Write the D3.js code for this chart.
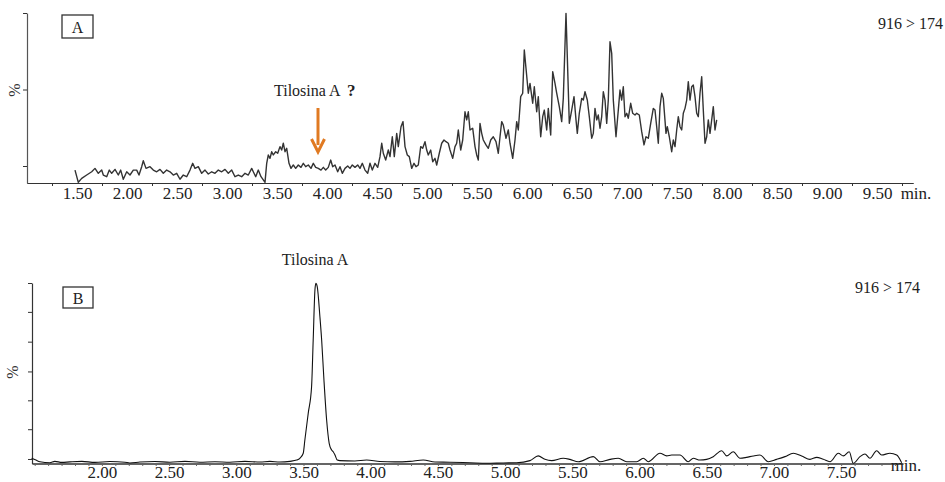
<!DOCTYPE html>
<html><head><meta charset="utf-8">
<script src="https://cdn.jsdelivr.net/npm/d3@7/dist/d3.min.js"></script>
<style>
body{margin:0;background:#fff;}
svg{display:block;font-family:"Liberation Serif","Times New Roman",serif;}
</style></head>
<body><svg id="c" width="945" height="482"></svg>
<script>
// ---- data ----
const panelLabels = ["A", "B"];
const transitionLabel = "916 > 174";
const compoundLabel = "Tilosina A";
const topTickLabels = [1.5,2.0,2.5,3.0,3.5,4.0,4.5,5.0,5.5,6.0,6.5,7.0,7.5,8.0,8.5,9.0,9.5];
const bottomTickLabels = [2.0,2.5,3.0,3.5,4.0,4.5,5.0,5.5,6.0,6.5,7.0,7.5];
const topYTicks = [100, 55, 10];
const bottomYTicks = [100, 84, 67.5, 51, 35, 19, 2.5];
// top chromatogram (A): [time (min), intensity %]
const topSeries = [[1.48,7.6],[1.513,0.4],[1.547,2.7],[1.597,4.7],[1.647,6.6],[1.68,8.6],[1.713,5.7],[1.747,7.6],[1.763,4.7],[1.797,3.7],[1.823,7.6],[1.847,5.7],[1.88,8.0],[1.913,4.7],[1.937,7.6],[1.963,2.2],[1.997,6.6],[2.03,4.7],[2.063,7.6],[2.097,7.6],[2.12,4.7],[2.147,9.6],[2.163,13.1],[2.19,8.6],[2.23,9.6],[2.263,7.6],[2.297,6.6],[2.33,8.0],[2.363,5.7],[2.397,7.6],[2.43,6.6],[2.463,4.7],[2.497,5.7],[2.53,2.2],[2.563,4.7],[2.597,3.7],[2.63,7.6],[2.657,11.6],[2.68,8.6],[2.713,9.6],[2.747,5.7],[2.78,7.6],[2.813,5.3],[2.847,6.6],[2.88,5.7],[2.913,7.6],[2.947,6.6],[2.98,8.0],[3.013,5.7],[3.047,7.6],[3.08,3.7],[3.113,4.7],[3.147,3.7],[3.18,5.7],[3.213,4.7],[3.247,8.6],[3.263,6.6],[3.287,3.7],[3.313,7.6],[3.34,3.7],[3.363,1.8],[3.38,0.4],[3.397,11.6],[3.413,16.5],[3.43,14.5],[3.447,18.4],[3.463,16.5],[3.487,18.4],[3.507,17.5],[3.53,21.4],[3.547,19.4],[3.563,23.4],[3.58,18.4],[3.597,20.4],[3.62,11.6],[3.64,8.6],[3.663,10.6],[3.687,8.6],[3.713,10.6],[3.74,9.2],[3.763,11.6],[3.787,9.6],[3.813,10.6],[3.84,8.6],[3.863,11.6],[3.887,9.2],[3.913,8.6],[3.94,7.6],[3.963,9.2],[3.987,7.6],[4.013,9.2],[4.037,13.5],[4.057,9.6],[4.08,10.6],[4.107,6.6],[4.13,9.6],[4.153,5.7],[4.18,8.6],[4.207,10.0],[4.23,8.6],[4.253,10.6],[4.28,9.2],[4.307,10.6],[4.33,8.6],[4.353,11.6],[4.38,7.6],[4.407,5.7],[4.43,11.6],[4.453,7.6],[4.48,11.6],[4.507,9.2],[4.53,15.5],[4.547,23.4],[4.563,17.5],[4.587,13.5],[4.613,19.4],[4.63,15.5],[4.653,27.2],[4.673,15.5],[4.697,29.2],[4.713,21.4],[4.74,33.1],[4.76,36.1],[4.78,21.4],[4.803,16.5],[4.823,15.5],[4.847,8.6],[4.87,11.6],[4.89,9.6],[4.913,10.6],[4.937,21.4],[4.957,20.4],[4.98,24.3],[4.997,19.4],[5.013,16.5],[5.037,19.4],[5.057,12.5],[5.08,14.5],[5.097,10.6],[5.123,17.5],[5.147,23.4],[5.17,25.3],[5.19,24.3],[5.213,23.4],[5.23,19.4],[5.257,14.5],[5.28,21.4],[5.297,23.4],[5.313,31.2],[5.337,19.4],[5.357,25.3],[5.38,41.9],[5.397,37.1],[5.413,41.9],[5.43,31.2],[5.457,32.2],[5.48,21.4],[5.497,16.5],[5.513,13.5],[5.53,35.1],[5.547,29.2],[5.563,25.3],[5.59,22.4],[5.613,20.4],[5.637,25.3],[5.663,27.2],[5.69,24.3],[5.713,17.5],[5.73,27.2],[5.747,36.1],[5.763,34.1],[5.79,26.3],[5.813,31.2],[5.83,23.4],[5.857,14.5],[5.88,25.3],[5.897,36.1],[5.913,31.2],[5.937,50.8],[5.957,52.8],[5.973,78.2],[5.99,67.5],[6.013,52.8],[6.03,58.6],[6.057,46.9],[6.073,56.6],[6.097,41.9],[6.113,50.8],[6.137,27.2],[6.157,39.0],[6.173,42.9],[6.197,31.2],[6.213,43.9],[6.237,28.2],[6.257,65.5],[6.28,58.6],[6.297,52.8],[6.323,44.9],[6.347,36.1],[6.363,49.8],[6.39,99.8],[6.423,35.1],[6.447,42.9],[6.47,50.8],[6.49,37.1],[6.503,29.2],[6.523,41.0],[6.547,49.8],[6.563,48.8],[6.58,53.7],[6.603,48.8],[6.623,39.0],[6.647,26.3],[6.663,29.2],[6.68,43.9],[6.697,37.1],[6.713,40.0],[6.73,32.2],[6.747,39.0],[6.763,53.7],[6.78,48.8],[6.797,35.1],[6.813,48.8],[6.83,83.1],[6.847,76.3],[6.863,48.8],[6.89,27.2],[6.913,42.9],[6.93,54.7],[6.947,48.8],[6.963,56.6],[6.98,39.0],[6.997,41.0],[7.013,38.1],[7.037,46.9],[7.057,41.0],[7.08,40.0],[7.097,41.0],[7.123,40.0],[7.147,30.2],[7.17,22.4],[7.19,27.2],[7.213,26.3],[7.237,35.1],[7.263,43.9],[7.28,42.9],[7.297,33.1],[7.313,23.4],[7.33,44.9],[7.347,52.8],[7.363,49.8],[7.39,29.2],[7.403,33.1],[7.423,27.2],[7.447,18.4],[7.463,25.3],[7.48,21.4],[7.497,31.2],[7.513,39.0],[7.53,33.1],[7.547,31.2],[7.563,41.0],[7.58,43.9],[7.597,48.8],[7.613,59.6],[7.63,48.8],[7.647,56.6],[7.663,57.6],[7.68,50.8],[7.697,41.0],[7.713,39.0],[7.73,52.8],[7.747,62.5],[7.763,42.9],[7.78,23.4],[7.797,27.2],[7.813,37.1],[7.83,29.2],[7.847,37.1],[7.863,44.9],[7.88,31.2],[7.897,37.1]];
// bottom chromatogram (B): [time (min), intensity %]
const bottomSeries = [[1.477,2.9],[1.509,1.9],[1.539,1.0],[1.613,0.4],[1.65,1.2],[1.702,0.6],[1.762,0.9],[1.851,1.2],[1.948,0.6],[2.06,1.1],[2.171,0.7],[2.208,0.3],[2.283,0.8],[2.394,1.1],[2.506,0.7],[2.618,1.2],[2.729,0.7],[2.841,1.0],[2.952,0.7],[3.064,1.2],[3.176,0.8],[3.25,1.2],[3.324,0.8],[3.399,1.2],[3.449,1.9],[3.473,2.9],[3.498,5.7],[3.51,13.0],[3.535,27.8],[3.56,42.5],[3.572,68.4],[3.585,96.1],[3.592,99.8],[3.602,98.0],[3.622,81.3],[3.635,68.4],[3.652,46.3],[3.672,24.1],[3.691,11.2],[3.709,7.5],[3.721,6.5],[3.734,4.7],[3.751,1.9],[3.771,1.6],[3.882,1.4],[3.97,1.9],[4.068,1.1],[4.18,0.9],[4.292,1.2],[4.391,1.9],[4.478,0.8],[4.589,0.7],[4.738,0.4],[4.862,0.1],[4.986,0.3],[5.085,0.4],[5.185,1.6],[5.246,4.2],[5.296,2.3],[5.346,1.6],[5.432,2.9],[5.482,2.3],[5.544,1.0],[5.656,3.8],[5.705,1.0],[5.78,2.3],[5.842,2.9],[5.905,1.0],[5.979,1.0],[6.028,2.9],[6.065,1.0],[6.152,5.7],[6.202,4.2],[6.239,4.7],[6.301,4.7],[6.362,1.0],[6.4,2.9],[6.449,1.9],[6.499,2.3],[6.548,3.8],[6.611,7.1],[6.648,4.2],[6.697,6.5],[6.747,2.9],[6.796,3.4],[6.846,4.2],[6.896,4.7],[6.958,1.0],[7.02,2.3],[7.082,3.8],[7.144,5.7],[7.206,4.2],[7.268,2.3],[7.318,3.4],[7.367,2.3],[7.417,1.0],[7.479,5.7],[7.516,4.2],[7.56,6.5],[7.59,0.1],[7.64,3.8],[7.677,5.3],[7.714,2.9],[7.764,7.1],[7.801,4.7],[7.863,5.7],[7.913,4.7],[7.95,0.4]];
const arrowTime = 3.91;

// ---- drawing ----
const svg = d3.select("#c");
const axisColor = "#333";
const font = '"Liberation Serif","Times New Roman",serif';

function styleAxis(g){
  g.selectAll("path.domain").attr("stroke", axisColor).attr("stroke-width", 1.2);
  g.selectAll(".tick line").attr("stroke", axisColor);
  g.selectAll("text").attr("fill", "#222").attr("font-size", 17).attr("font-family", font);
}

// Panel A
const xA = d3.scaleLinear().domain([1.0, 9.86]).range([27, 913]);
const yA = d3.scaleLinear().domain([0, 100]).range([183, 13]);

const gAx = svg.append("g").attr("transform", "translate(0,183)")
  .call(d3.axisBottom(xA).tickValues(topTickLabels).tickFormat(d3.format(".2f")).tickSize(0).tickPadding(4).tickSizeOuter(0));
styleAxis(gAx);
const gAxm = svg.append("g").attr("transform", "translate(0,183)")
  .call(d3.axisBottom(xA).tickValues(d3.range(1.25, 9.8, 0.5)).tickFormat("").tickSize(3).tickSizeOuter(0));
styleAxis(gAxm);
const gAy = svg.append("g").attr("transform", "translate(27,0)")
  .call(d3.axisLeft(yA).tickValues(topYTicks).tickFormat("").tickSize(4).tickSizeOuter(0));
styleAxis(gAy);
gAy.selectAll("path.domain").attr("stroke", "#555");

svg.append("path").datum(topSeries)
  .attr("fill", "none").attr("stroke", "#333").attr("stroke-width", 1.4).attr("stroke-linejoin", "round")
  .attr("d", d3.line().x(d => xA(d[0])).y(d => yA(d[1])));

// Panel B
const xB = d3.scaleLinear().domain([1.48, 7.96]).range([32, 903]);
const yB = d3.scaleLinear().domain([0, 100]).range([463.5, 283]);

const gBx = svg.append("g").attr("transform", "translate(0,463.5)")
  .call(d3.axisBottom(xB).tickValues(bottomTickLabels).tickFormat(d3.format(".2f")).tickSize(0).tickPadding(2.5).tickSizeOuter(0));
styleAxis(gBx);
const gBxm = svg.append("g").attr("transform", "translate(0,463.5)")
  .call(d3.axisBottom(xB).tickValues(d3.range(1.5, 7.96, 0.1)).tickFormat("").tickSize(2.5).tickSizeOuter(0));
styleAxis(gBxm);
gBxm.selectAll(".tick line").attr("stroke", "#666");
const gBy = svg.append("g").attr("transform", "translate(32,0)")
  .call(d3.axisLeft(yB).tickValues(bottomYTicks).tickFormat("").tickSize(4).tickSizeOuter(0));
styleAxis(gBy);

svg.append("path").datum(bottomSeries)
  .attr("fill", "none").attr("stroke", "#111").attr("stroke-width", 1.1)
  .attr("d", d3.line().curve(d3.curveMonotoneX).x(d => xB(d[0])).y(d => yB(d[1])));

// texts
function txt(x, y, s, opts = {}){
  return svg.append("text").attr("x", x).attr("y", y).text(s)
    .attr("font-family", font).attr("font-size", opts.size || 16)
    .attr("fill", opts.fill || "#222")
    .attr("text-anchor", opts.anchor || "start")
    .attr("font-weight", opts.weight || "normal");
}
txt(916, 199, "min.", {anchor: "middle", size: 17});
txt(906, 471, "min.", {anchor: "middle", size: 17});
svg.append("text").attr("transform", "translate(20,90) rotate(-90)").attr("text-anchor", "middle")
  .attr("font-family", font).attr("font-size", 16).attr("fill", "#333").text("%");
svg.append("text").attr("transform", "translate(18,372) rotate(-90)").attr("text-anchor", "middle")
  .attr("font-family", font).attr("font-size", 16).attr("fill", "#333").text("%");
svg.append("rect").attr("x", 62).attr("y", 15).attr("width", 31).attr("height", 23)
  .attr("fill", "none").attr("stroke", "#333").attr("stroke-width", 1.3);
txt(77.5, 33, panelLabels[0], {anchor: "middle"});
svg.append("rect").attr("x", 63).attr("y", 287).attr("width", 30).attr("height", 21)
  .attr("fill", "none").attr("stroke", "#333").attr("stroke-width", 1.3);
txt(78, 304, panelLabels[1], {anchor: "middle"});
txt(943, 29, transitionLabel, {anchor: "end"});
txt(920, 293, transitionLabel, {anchor: "end"});
txt(274, 96, compoundLabel);
txt(347, 96, "?", {weight: "bold", size: 17});
txt(315, 265, compoundLabel, {anchor: "middle"});
const ax = xA(arrowTime);
svg.append("line").attr("x1", ax).attr("x2", ax).attr("y1", 108).attr("y2", 145)
  .attr("stroke", "#e07a22").attr("stroke-width", 3);
svg.append("path").attr("d", `M${ax-6.5},${139} L${ax},${152} L${ax+6.5},${139}`)
  .attr("fill", "none").attr("stroke", "#e07a22").attr("stroke-width", 3).attr("stroke-linejoin", "miter");
</script>
</body></html>
